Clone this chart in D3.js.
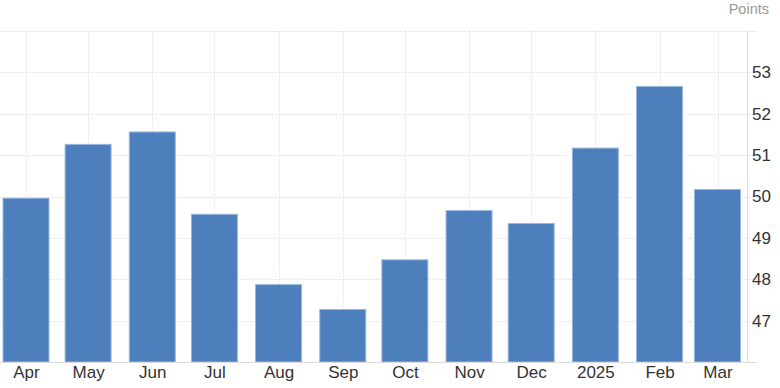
<!DOCTYPE html>
<html>
<head>
<meta charset="utf-8">
<script src="https://cdn.jsdelivr.net/npm/d3@7"></script>
<style>
  body { margin: 0; background: #fff; }
  svg text { font-family: "Liberation Sans", Arial, sans-serif; }
</style>
</head>
<body>
<div id="chart"></div>
<script>
// monthly readings, Apr 2024 .. Mar 2025
var months = ["2024-04-01","2024-05-01","2024-06-01","2024-07-01","2024-08-01","2024-09-01",
              "2024-10-01","2024-11-01","2024-12-01","2025-01-01","2025-02-01","2025-03-01"];
var values = [49.96, 51.26, 51.56, 49.57, 47.87, 47.27, 48.47, 49.66, 49.35, 51.17, 52.66, 50.17];
var monthLabels = ["Apr","May","Jun","Jul","Aug","Sep","Oct","Nov","Dec","2025","Feb","Mar"];
var yTicks = [47, 48, 49, 50, 51, 52, 53];

var parse = d3.timeParse("%Y-%m-%d");
var data = months.map(function(m, i) {
  return { date: parse(m), value: values[i], label: monthLabels[i] };
});

var width = 780, height = 388;
var plotRight = 747, plotTop = 31, plotBottom = 362;

var svg = d3.select("#chart").append("svg")
    .attr("width", width)
    .attr("height", height);

var x = d3.scaleTime()
    .domain([data[0].date, data[data.length - 1].date])
    .range([26, 717.5]);

var y = d3.scaleLinear()
    .domain([46, 54])
    .range([plotBottom, plotTop]);

var barW = 46;

///////////// GRID /////////////
var grid = svg.append("g").attr("class", "grid");

grid.selectAll("line.h")
    .data(yTicks.concat([54]))
    .enter().append("line")
    .attr("class", "h")
    .attr("x1", 0)
    .attr("x2", plotRight + 10)
    .attr("y1", function(d) { return Math.round(y(d)) + 0.5; })
    .attr("y2", function(d) { return Math.round(y(d)) + 0.5; })
    .attr("stroke", "#e3e3e3")
    .attr("stroke-dasharray", "1,1");

grid.selectAll("line.v")
    .data(data)
    .enter().append("line")
    .attr("class", "v")
    .attr("x1", function(d) { return Math.round(x(d.date)) + 0.5; })
    .attr("x2", function(d) { return Math.round(x(d.date)) + 0.5; })
    .attr("y1", plotTop)
    .attr("y2", plotBottom)
    .attr("stroke", "#e3e3e3")
    .attr("stroke-dasharray", "1,1");

///////////// BARS /////////////
svg.selectAll("rect.bar")
    .data(data)
    .enter().append("rect")
    .attr("class", "bar")
    .attr("x", function(d) { return x(d.date) - barW / 2; })
    .attr("width", barW)
    .attr("y", function(d) { return y(d.value); })
    .attr("height", function(d) { return y(46) - y(d.value); })
    .attr("fill", "#4d7fbc")
    .attr("stroke", "#9ab8dd")
    .attr("stroke-width", 1);

///////////// AXES /////////////
svg.append("line")
    .attr("x1", 0).attr("x2", plotRight + 10)
    .attr("y1", plotBottom + 0.5).attr("y2", plotBottom + 0.5)
    .attr("stroke", "#dcdcdc");

svg.append("line")
    .attr("x1", plotRight + 0.5).attr("x2", plotRight + 0.5)
    .attr("y1", plotTop).attr("y2", plotBottom)
    .attr("stroke", "#dcdcdc");

var yAxis = svg.append("g")
    .attr("transform", "translate(" + (plotRight + 5) + ",0)")
    .call(d3.axisRight(y).tickValues(yTicks).tickSize(0).tickPadding(0));
yAxis.select(".domain").remove();
yAxis.selectAll("text")
    .attr("fill", "#333")
    .style("font-size", "17px");

var xAxis = svg.append("g")
    .attr("transform", "translate(0," + plotBottom + ")")
    .call(d3.axisBottom(x)
      .tickValues(data.map(function(d) { return d.date; }))
      .tickFormat(function(d, i) { return monthLabels[i]; })
      .tickSize(0).tickPadding(4));
xAxis.select(".domain").remove();
xAxis.selectAll("text")
    .attr("fill", "#333")
    .style("font-size", "17px");

svg.append("text")
    .attr("x", 769)
    .attr("y", 14)
    .attr("text-anchor", "end")
    .attr("fill", "#999")
    .style("font-size", "14.5px")
    .text("Points");
</script>
</body>
</html>
